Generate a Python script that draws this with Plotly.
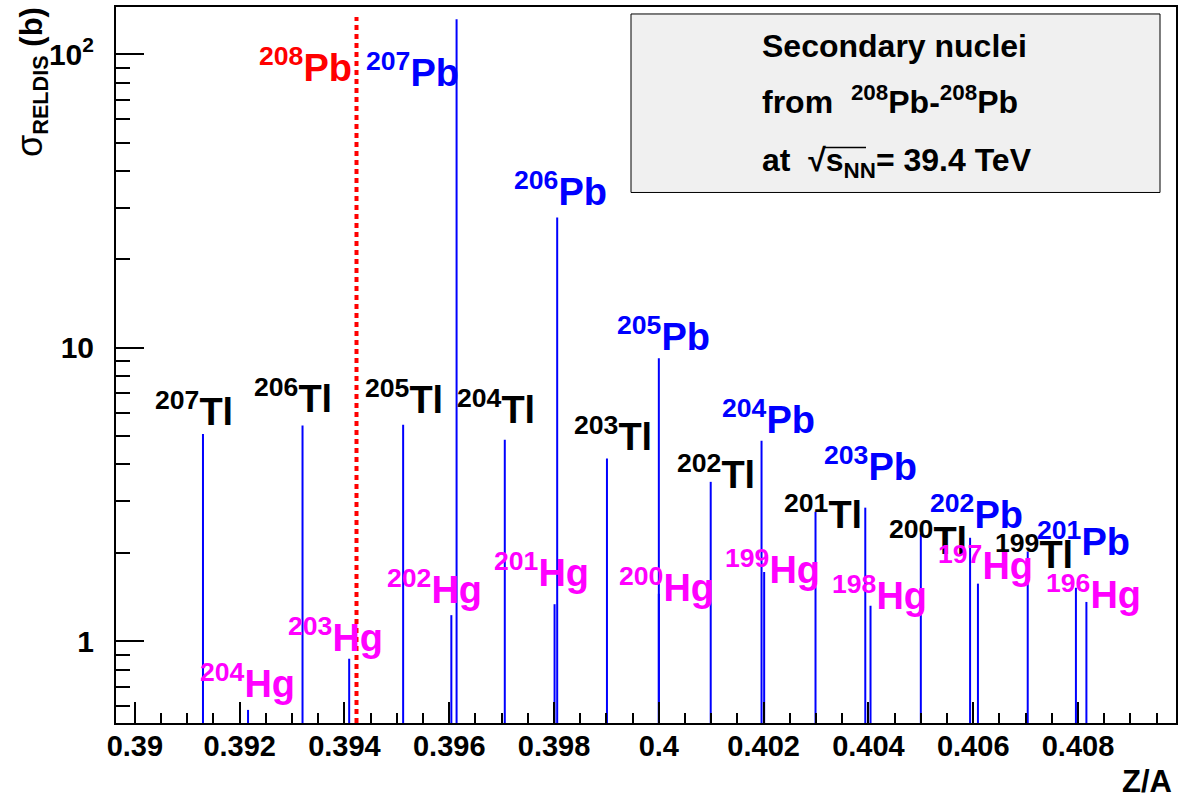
import math
import plotly.graph_objects as go

# ---------------- data ----------------
pb_mass = [207, 206, 205, 204, 203, 202, 201]
pb_za = [0.39614, 0.39806, 0.40000, 0.40196, 0.40394, 0.40594, 0.40796]
pb_sigma = [131.5, 27.8, 9.2, 4.82, 2.85, 2.25, 1.52]

tl_mass = [207, 206, 205, 204, 203, 202, 201, 200, 199]
tl_za = [0.39130, 0.39320, 0.39512, 0.39706, 0.39901, 0.40099, 0.40299, 0.40500, 0.40704]
tl_sigma = [5.08, 5.43, 5.46, 4.86, 4.19, 3.49, 2.76, 2.33, 2.02]

hg_mass = [204, 203, 202, 201, 200, 199, 198, 197, 196]
hg_za = [0.39216, 0.39409, 0.39604, 0.39801, 0.40000, 0.40201, 0.40404, 0.40609, 0.40816]
hg_sigma = [0.583, 0.871, 1.226, 1.336, 1.45, 1.72, 1.32, 1.57, 1.36]

beam_mass = 208
beam_za = 0.39423

x_range = [0.38964, 0.40987]
y_range_log = [-0.279, 2.161]
y_major = [1, 10, 100]
y_major_text = ["1", "10", "10<sup>2</sup>"]
y_minor = [0.6, 0.7, 0.8, 0.9, 2, 3, 4, 5, 6, 7, 8, 9, 20, 30, 40, 50, 60, 70, 80, 90]

# ---------------- label placement (left edge Z/A, baseline sigma) ----------------
pb_lab_x = [0.39441, 0.39723, 0.39920, 0.40120, 0.40315, 0.40517, 0.40721]
pb_lab_y = [77.4, 30.3, 9.75, 5.09, 3.52, 2.42, 1.95]
tl_lab_x = [0.39038, 0.39227, 0.39439, 0.39615, 0.39838, 0.40034, 0.40239, 0.40439, 0.40641]
tl_lab_y = [5.42, 6.01, 5.96, 5.51, 4.46, 3.31, 2.42, 1.96, 1.76]
hg_lab_x = [0.39124, 0.39292, 0.39481, 0.39685, 0.39924, 0.40126, 0.40330, 0.40532, 0.40739]
hg_lab_y = [0.641, 0.918, 1.34, 1.53, 1.36, 1.57, 1.28, 1.61, 1.29]
beam_lab_x = 0.39237
beam_lab_y = 80.5

FONT = "Liberation Sans"
BLUE = "#0000ff"
RED = "#ff0000"
MAGENTA = "#ff00ff"
BLACK = "#000000"
LAB_SIZE = 38

y_bottom = 10 ** y_range_log[0]

fig = go.Figure()

# spikes (histogram bins), drawn as vertical lines from the bottom of the axis
for za, sig in [(tl_za, tl_sigma), (hg_za, hg_sigma), (pb_za, pb_sigma)]:
    xs, ys = [], []
    for xv, yv in zip(za, sig):
        xs += [xv, xv, None]
        ys += [y_bottom, yv, None]
    fig.add_trace(go.Scatter(x=xs, y=ys, mode="lines",
                             line=dict(color=BLUE, width=2),
                             hoverinfo="skip", showlegend=False))

# beam line 208Pb
fig.add_trace(go.Scatter(x=[beam_za, beam_za], y=[y_bottom, 134], mode="lines",
                         line=dict(color=RED, width=4, dash="5px,4px"),
                         hoverinfo="skip", showlegend=False))

annotations = []


def iso_label(mass, sym, x, y, color):
    annotations.append(dict(
        x=x, y=math.log10(y), xref="x", yref="y",
        text=f"<sup>{mass}</sup>{sym}", showarrow=False,
        xanchor="left", yanchor="bottom", yshift=-9, xshift=-2,
        font=dict(family=FONT, size=LAB_SIZE, color=color, weight="bold")))


for m, x, y in zip(tl_mass, tl_lab_x, tl_lab_y):
    iso_label(m, "Tl", x, y, BLACK)
for m, x, y in zip(pb_mass, pb_lab_x, pb_lab_y):
    iso_label(m, "Pb", x, y, BLUE)
for m, x, y in zip(hg_mass, hg_lab_x, hg_lab_y):
    iso_label(m, "Hg", x, y, MAGENTA)
iso_label(beam_mass, "Pb", beam_lab_x, beam_lab_y, RED)

# plot-area pixel helpers (for text boxes)
L, R, T, B = 116, 7, 5, 75
W, H = 1183, 798
PW, PH = W - L - R, H - T - B


def px(xp):
    return (xp - L) / PW


def py(yp):
    return (H - B - yp) / PH


# y title
annotations.append(dict(
    x=px(31), y=py(3), xref="paper", yref="paper",
    text="<span style='font-size:36px;font-weight:normal'>σ</span>"
         "<sub>RELDIS</sub> (b)",
    textangle=-90, showarrow=False,
    xanchor="center", yanchor="top",
    font=dict(family=FONT, size=31, color=BLACK, weight="bold")))

# x title
annotations.append(dict(
    x=px(1174), y=py(762), xref="paper", yref="paper",
    text="Z/A", showarrow=False, xanchor="right", yanchor="top",
    font=dict(family=FONT, size=31, color=BLACK, weight="bold")))

# text box
box_lines = [
    "Secondary nuclei",
    "from  <sup>208</sup>Pb-<sup>208</sup>Pb",
    "at  √s<sub>NN</sub>= 39.4 TeV",
]
box_baselines = [56, 112, 175]
for txt, bl in zip(box_lines, box_baselines):
    annotations.append(dict(
        x=px(760), y=py(bl), xref="paper", yref="paper",
        text=txt, showarrow=False, xanchor="left", yanchor="bottom", yshift=-8,
        font=dict(family=FONT, size=32, color=BLACK, weight="bold")))

shapes = [
    dict(type="rect", xref="paper", yref="paper",
         x0=px(631), x1=px(1160), y0=py(191), y1=py(12),
         fillcolor="#f0f0f0", line=dict(color=BLACK, width=1), layer="below"),
    dict(type="line", xref="paper", yref="paper",
         x0=px(823), x1=px(866), y0=py(146), y1=py(146),
         line=dict(color=BLACK, width=1.5)),
]

fig.update_layout(
    width=W, height=H,
    margin=dict(l=L, r=R, t=T, b=B, pad=0),
    paper_bgcolor="white", plot_bgcolor="white",
    showlegend=False,
    annotations=annotations,
    shapes=shapes,
    xaxis=dict(
        range=x_range, showgrid=False, zeroline=False,
        showline=True, linecolor=BLACK, linewidth=2, mirror=True,
        ticks="inside", ticklen=21, tickwidth=2, tickcolor=BLACK,
        tick0=0.39, dtick=0.002,
        minor=dict(ticks="inside", ticklen=10, tickwidth=2, tickcolor=BLACK,
                   tick0=0.39, dtick=0.0005, showgrid=False),
        tickfont=dict(family=FONT, size=29, color=BLACK, weight="bold"),
        ticklabelstandoff=-4,
    ),
    yaxis=dict(
        type="log", range=y_range_log, showgrid=False, zeroline=False,
        showline=True, linecolor=BLACK, linewidth=2, mirror=True,
        ticks="inside", ticklen=28, tickwidth=1.5, tickcolor=BLACK,
        tickmode="array", tickvals=y_major, ticktext=y_major_text,
        minor=dict(ticks="inside", ticklen=14, tickwidth=1.5, tickcolor=BLACK,
                   tickmode="array", tickvals=y_minor, showgrid=False),
        tickfont=dict(family=FONT, size=30, color=BLACK, weight="bold"),
        ticklabelstandoff=14,
    ),
)

fig.write_html("out.html",
               config={"displayModeBar": False},
               post_script="document.body.style.margin='0';"
                           "document.body.style.overflow='hidden';")
